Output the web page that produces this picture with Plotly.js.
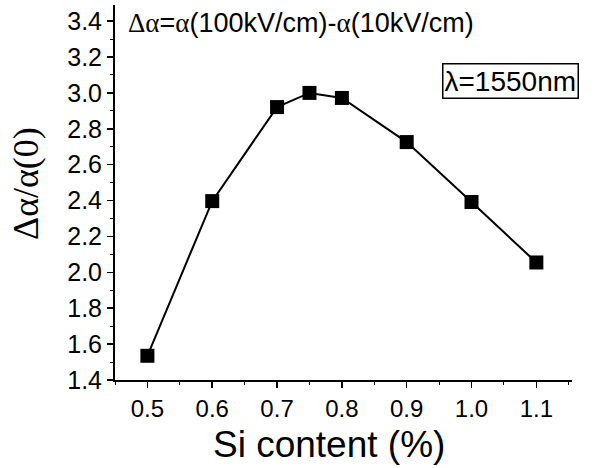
<!DOCTYPE html>
<html>
<head>
<meta charset="utf-8">
<script src="https://cdn.plot.ly/plotly-3.0.1.min.js"></script>
<style>html,body{margin:0;padding:0;background:#fff;}</style>
</head>
<body>
<div id="chart" style="width:600px;height:468px;"></div>
<script>
const siContent = [0.5, 0.6, 0.7, 0.75, 0.8, 0.9, 1.0, 1.1];
const ratio = [1.535, 2.397, 2.921, 3.0, 2.972, 2.726, 2.392, 2.055];
const xTicks = [0.5, 0.6, 0.7, 0.8, 0.9, 1.0, 1.1];
const xTickText = ["0.5", "0.6", "0.7", "0.8", "0.9", "1.0", "1.1"];
const yTicks = [1.4, 1.6, 1.8, 2.0, 2.2, 2.4, 2.6, 2.8, 3.0, 3.2, 3.4];
const yTickText = ["1.4", "1.6", "1.8", "2.0", "2.2", "2.4", "2.6", "2.8", "3.0", "3.2", "3.4"];
const xTitle = 'Si content (%)';
const yTitle = 'Δα/α(0)';

const sans = "Liberation Sans, Arial, sans-serif";
const serif = "Liberation Serif, Times New Roman, serif";

const trace = {
  x: siContent, y: ratio, type: 'scatter', mode: 'lines+markers',
  line: {color: '#000', width: 2},
  marker: {symbol: 'square', size: 14, color: '#000'},
  showlegend: false, hoverinfo: 'skip'
};

const layout = {
  width: 600, height: 468,
  margin: {l: 115, r: 28, t: 5, b: 88},
  paper_bgcolor: '#fff', plot_bgcolor: '#fff',
  xaxis: {
    range: [0.45, 1.155], tickvals: xTicks, ticktext: xTickText,
    showgrid: false, zeroline: false, showline: true, linecolor: '#000', linewidth: 2,
    ticks: 'outside', ticklen: 6, tickwidth: 1.5, tickcolor: '#000',
    minor: {dtick: 0.05, tick0: 0.45, ticks: 'outside', ticklen: 3, tickwidth: 1, tickcolor: '#000', showgrid: false},
    tickfont: {family: sans, size: 24, color: '#000'}
  },
  yaxis: {
    range: [1.4, 3.49], tickvals: yTicks, ticktext: yTickText,
    showgrid: false, zeroline: false, showline: true, linecolor: '#000', linewidth: 2,
    ticks: 'outside', ticklen: 6, tickwidth: 1.5, tickcolor: '#000',
    minor: {dtick: 0.1, tick0: 1.4, ticks: 'outside', ticklen: 3, tickwidth: 1, tickcolor: '#000', showgrid: false},
    tickfont: {family: sans, size: 25, color: '#000'}
  },
  annotations: [
    {xref: 'paper', yref: 'paper', x: 0.468, y: -0.172, xanchor: 'center', yanchor: 'middle',
     text: xTitle, showarrow: false, font: {family: sans, size: 37, color: '#000'}},
    {xref: 'paper', yref: 'paper', x: -0.195, y: 0.525, xanchor: 'center', yanchor: 'middle',
     text: yTitle, textangle: -90, showarrow: false, font: {family: serif, size: 36, color: '#000'}},
    {xref: 'paper', yref: 'paper', x: 0.025, y: 0.997, xanchor: 'left', yanchor: 'top',
     text: '<span style="font-family:Liberation Serif">Δα</span>=<span style="font-family:Liberation Serif">α</span>(100kV/cm)-<span style="font-family:Liberation Serif">α</span>(10kV/cm)',
     showarrow: false, font: {family: sans, size: 27, color: '#000'}},
    {xref: 'paper', yref: 'paper', x: 0.716, y: 0.797, xanchor: 'left', yanchor: 'middle',
     text: 'λ=1550nm', showarrow: false, font: {family: sans, size: 28, color: '#000'},
     bordercolor: '#000', borderwidth: 1.5, borderpad: 1, bgcolor: '#fff'}
  ]
};

Plotly.newPlot('chart', [trace], layout, {staticPlot: true, displayModeBar: false});
</script>
</body>
</html>
